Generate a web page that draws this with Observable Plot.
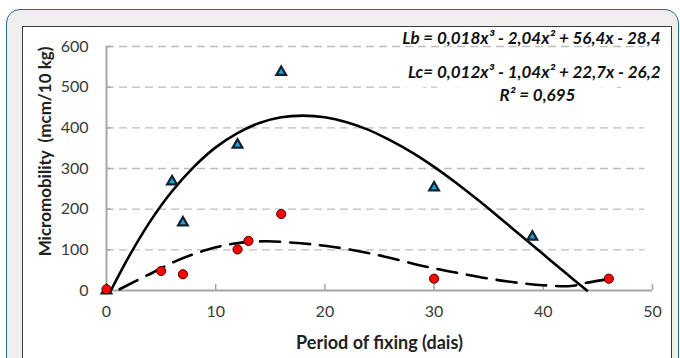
<!DOCTYPE html>
<html><head><meta charset="utf-8">
<script src="https://cdn.jsdelivr.net/npm/d3@7"></script>
<script src="https://cdn.jsdelivr.net/npm/@observablehq/plot@0.6"></script>
<style>
html,body{margin:0;padding:0;background:#fff;}
#wrap{position:relative;width:680px;height:358px;overflow:hidden;}
#outer{position:absolute;left:6px;top:9px;width:673px;height:380px;background:#f0efed;border:1.5px solid #2a6b8a;border-radius:14px;box-sizing:border-box;}
#inner{position:absolute;left:22px;top:26px;width:650px;height:360px;background:#fff;border:1px solid #3a3a3a;box-sizing:border-box;}
#chart{position:absolute;left:0;top:0;}
</style></head>
<body>
<div id="wrap"><div id="outer"></div><div id="inner"></div><div id="chart"></div></div>
<script>
// Lb series (triangles)
const lbDays = [0, 6, 7, 12, 16, 30, 39];
const lbValues = [0, 268, 167, 358, 537, 253, 132];
// Lc series (circles)
const lcDays = [0, 5, 7, 12, 13, 16, 30, 46];
const lcValues = [3, 48, 40, 101, 122, 188, 29, 29];
// Trend curves
const lbTrendX = [0.4, 2, 4, 6, 8, 10, 12, 14, 16, 18, 20, 22, 24, 26, 28, 30, 32, 34, 36, 38, 40, 42, 44];
const lbTrendY = [0, 81, 170, 244, 304, 352, 387, 412, 426, 430, 426, 414, 395, 369, 339, 304, 265, 223, 179, 134, 89, 44, 0];
const lcTrendX = [1.2, 3.7, 6.5, 9.2, 11.6, 14.5, 17.8, 20.8, 24.5, 29.4, 32.4, 35.5, 38, 40, 42.5, 44.2, 46];
const lcTrendY = [3, 37, 74, 100, 115, 121, 116, 107, 89, 58, 42, 27, 18, 13, 11, 20, 28];
// Axis ticks
const xTicks = [0, 10, 20, 30, 40, 50];
const yTicks = [0, 100, 200, 300, 400, 500, 600];
const yGrid = [100, 200, 300, 400, 500, 600];
// Texts
const xTitle = "Period of fixing (dais)";
const yTitle = "Micromobility  (mcm/10 kg)";
const eqLb = "Lb = 0,018x³ - 2,04x² + 56,4x - 28,4";
const eqLc = "Lc= 0,012x³ - 1,04x² + 22,7x - 26,2";
const eqR2 = "R² = 0,695";

const lb = lbDays.map((d, i) => ({x: d, y: lbValues[i]}));
const lc = lcDays.map((d, i) => ({x: d, y: lcValues[i]}));
const lbT = lbTrendX.map((d, i) => ({x: d, y: lbTrendY[i]}));
const lcT = lcTrendX.map((d, i) => ({x: d, y: lcTrendY[i]}));

const axisGray = "#a6a6a6";
const eqStyle = {textAnchor: "end", lineAnchor: "middle", fontWeight: "bold", fontStyle: "italic", fontSize: 17, fill: "#111", stroke: "white"};
const plot = Plot.plot({
  width: 680, height: 358,
  marginLeft: 106, marginRight: 28, marginTop: 46, marginBottom: 68,
  style: {background: "transparent", fontFamily: "Lato, sans-serif", fontSize: "16px", color: "#333", overflow: "visible"},
  x: {domain: [0, 50], label: null},
  y: {domain: [0, 600], label: null},
  marks: [
    Plot.ruleY(yGrid, {y: d => d, x1: 0, x2: 49.3, stroke: "#bdbdbd", strokeWidth: 1.3, strokeDasharray: "8,5"}),
    Plot.ruleX([0], {stroke: axisGray, strokeWidth: 2}),
    Plot.ruleY([0], {stroke: axisGray, strokeWidth: 2}),
    Plot.tickX(xTicks, {x: d => d, insetTop: 238, stroke: axisGray, strokeWidth: 1.5}),
    Plot.tickY(yTicks, {y: d => d, insetRight: 541, stroke: axisGray, strokeWidth: 1.5}),
    Plot.axisX({ticks: xTicks, tickSize: 0, tickPadding: 15, label: null, fill: "#3a3a3a"}),
    Plot.axisY({ticks: yTicks, tickSize: 0, tickPadding: 18, label: null, fill: "#3a3a3a"}),
    Plot.text([xTitle], {frameAnchor: "bottom", dy: 53, lineAnchor: "middle", textAnchor: "middle", text: d => d, fontWeight: "bold", fontSize: 18, fill: "#222"}),
    Plot.text([yTitle], {frameAnchor: "left", dx: -61, dy: -17, rotate: -90, textAnchor: "middle", lineAnchor: "middle", text: d => d, fontWeight: "bold", fontSize: 17, fill: "#222"}),
    Plot.line(lcT, {x: "x", y: "y", curve: "catmull-rom", stroke: "#000", strokeWidth: 2.6, strokeDasharray: "20,10"}),
    Plot.line(lbT, {x: "x", y: "y", curve: "catmull-rom", stroke: "#000", strokeWidth: 2.6}),
    Plot.dot(lb, {x: "x", y: "y", symbol: "triangle", r: 3.6, fill: "#1ba3dc", stroke: "#15202e", strokeWidth: 2.2}),
    Plot.dot(lc, {x: "x", y: "y", r: 4.6, fill: "#ff0000", stroke: "#4a0000", strokeWidth: 1}),
    Plot.text([eqLb], {...eqStyle, frameAnchor: "top-right", dx: 8, dy: -8, text: d => d, strokeWidth: 3}),
    Plot.text([eqLc], {...eqStyle, frameAnchor: "top-right", dx: 8, dy: 26, text: d => d, strokeWidth: 20}),
    Plot.text([eqR2], {...eqStyle, textAnchor: "middle", frameAnchor: "top-right", dx: -115, dy: 49, text: d => d, strokeWidth: 12})
  ]
});
document.getElementById("chart").appendChild(plot);
</script>
</body></html>
